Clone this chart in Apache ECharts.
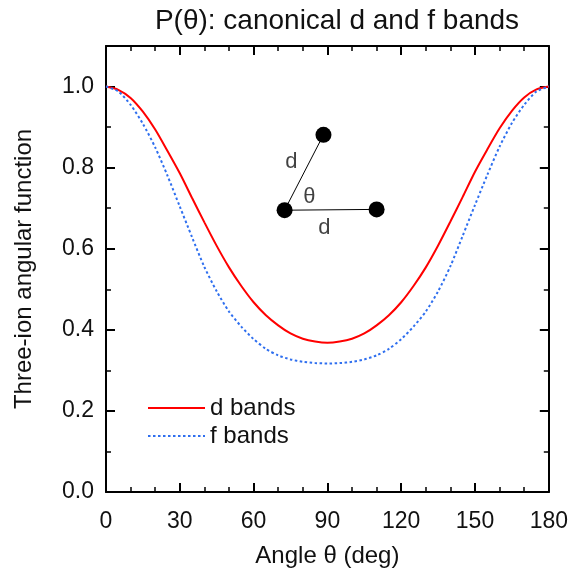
<!DOCTYPE html>
<html>
<head>
<meta charset="UTF-8" />
<title>P(theta)</title>
<script src="https://cdn.jsdelivr.net/npm/echarts@6/dist/echarts.min.js"></script>
<style>
  html, body { margin: 0; padding: 0; background: #fff; }
  #chart { width: 571px; height: 573px; }
</style>
</head>
<body>
<div id="chart"></div>
<script>
  // angle in degrees, 5 deg steps
  const angles = [0, 5, 10, 15, 20, 25, 30, 35, 40, 45, 50, 55, 60, 65, 70, 75, 80, 85, 90,
    95, 100, 105, 110, 115, 120, 125, 130, 135, 140, 145, 150, 155, 160, 165, 170, 175, 180];
  const dBands = [1.0, 0.992, 0.972, 0.938, 0.894, 0.841, 0.786, 0.725, 0.665, 0.607, 0.554, 0.508, 0.468, 0.436, 0.411, 0.391, 0.378, 0.371, 0.368,
    0.371, 0.378, 0.391, 0.411, 0.436, 0.468, 0.508, 0.554, 0.608, 0.667, 0.728, 0.79, 0.845, 0.897, 0.94, 0.973, 0.993, 1.0];
  const fBands = [1.0, 0.988, 0.955, 0.908, 0.85, 0.78, 0.704, 0.628, 0.555, 0.495, 0.445, 0.408, 0.377, 0.353, 0.337, 0.327, 0.321, 0.318, 0.317,
    0.318, 0.321, 0.327, 0.337, 0.353, 0.377, 0.408, 0.445, 0.495, 0.557, 0.632, 0.708, 0.782, 0.852, 0.91, 0.955, 0.988, 1.0];

  // inset triangle sketch (data coords)
  const insetPts = [[88.4, 0.881], [72.6, 0.695], [110, 0.697]];
  const insetLabels = [[75.4, 0.814, 'd'], [82.7, 0.727, 'θ'], [88.8, 0.651, 'd']];

  const font = 'Liberation Sans, Arial, sans-serif';
  const pair = (xs, ys) => xs.map((x, i) => [x, ys[i]]);

  const frameAxis = {
    axisLine: { show: true, onZero: false, lineStyle: { color: '#000', width: 2 } },
    axisTick: { show: true, inside: true, length: 9, lineStyle: { color: '#000', width: 2 } },
    minorTick: { show: true, length: 5, lineStyle: { color: '#000', width: 1.5 } },
    splitLine: { show: false },
  };

  const chart = echarts.init(document.getElementById('chart'));
  chart.setOption({
    animation: false,
    backgroundColor: '#fff',
    title: {
      text: 'P(θ): canonical d and f bands',
      left: 332, top: 2, textAlign: 'center',
      textStyle: { fontFamily: font, fontSize: 28, fontWeight: 'normal', color: '#111' }
    },
    legend: {
      data: ['d bands', 'f bands'],
      orient: 'vertical',
      left: 147, top: 396, padding: 0,
      itemWidth: 57, itemHeight: 14, itemGap: 4,
      itemStyle: { opacity: 0 },
      textStyle: { fontFamily: font, fontSize: 24, color: '#111' }
    },
    grid: { left: 106, right: 21, top: 46, bottom: 81 },
    xAxis: [
      Object.assign({}, frameAxis, {
        type: 'value', min: 0, max: 180, interval: 30,
        minorTick: Object.assign({}, frameAxis.minorTick, { splitNumber: 3 }),
        axisLabel: { fontFamily: font, fontSize: 23, color: '#111', margin: 18 },
        name: 'Angle θ (deg)', nameLocation: 'middle', nameGap: 52,
        nameTextStyle: { fontFamily: font, fontSize: 24, color: '#111' }
      }),
      Object.assign({}, frameAxis, {
        type: 'value', min: 0, max: 180, interval: 30, position: 'top',
        minorTick: Object.assign({}, frameAxis.minorTick, { splitNumber: 3 }),
        axisLabel: { show: false }
      })
    ],
    yAxis: [
      Object.assign({}, frameAxis, {
        type: 'value', min: 0, max: 1.1, interval: 0.2,
        minorTick: Object.assign({}, frameAxis.minorTick, { splitNumber: 2 }),
        axisLabel: {
          fontFamily: font, fontSize: 23, color: '#111', margin: 12, showMaxLabel: false,
          formatter: v => v > 1.05 ? '' : v.toFixed(1)
        },
        name: 'Three-ion angular function', nameLocation: 'middle', nameGap: 70,
        nameTextStyle: { fontFamily: font, fontSize: 24, color: '#111' }
      }),
      Object.assign({}, frameAxis, {
        type: 'value', min: 0, max: 1.1, interval: 0.2, position: 'right',
        minorTick: Object.assign({}, frameAxis.minorTick, { splitNumber: 2 }),
        axisLabel: { show: false }
      })
    ],
    series: [
      {
        name: 'd bands', type: 'line', data: pair(angles, dBands),
        smooth: 0.25, symbol: 'none', color: '#ff0000',
        lineStyle: { color: '#ff0000', width: 2 }
      },
      {
        name: 'f bands', type: 'line', data: pair(angles, fBands),
        smooth: 0.25, symbol: 'none', color: '#2f6fef',
        lineStyle: { color: '#2f6fef', width: 2, type: [2.5, 2.5] }
      },
      {
        type: 'line', data: insetPts, silent: true,
        symbol: 'circle', symbolSize: 16,
        itemStyle: { color: '#000' },
        lineStyle: { color: '#000', width: 1 }
      },
      {
        type: 'scatter', data: insetLabels, symbolSize: 0, silent: true,
        label: {
          show: true, position: 'inside',
          formatter: p => p.data[2],
          fontFamily: font, fontSize: 22, color: '#111'
        }
      }
    ]
  });
</script>
</body>
</html>
